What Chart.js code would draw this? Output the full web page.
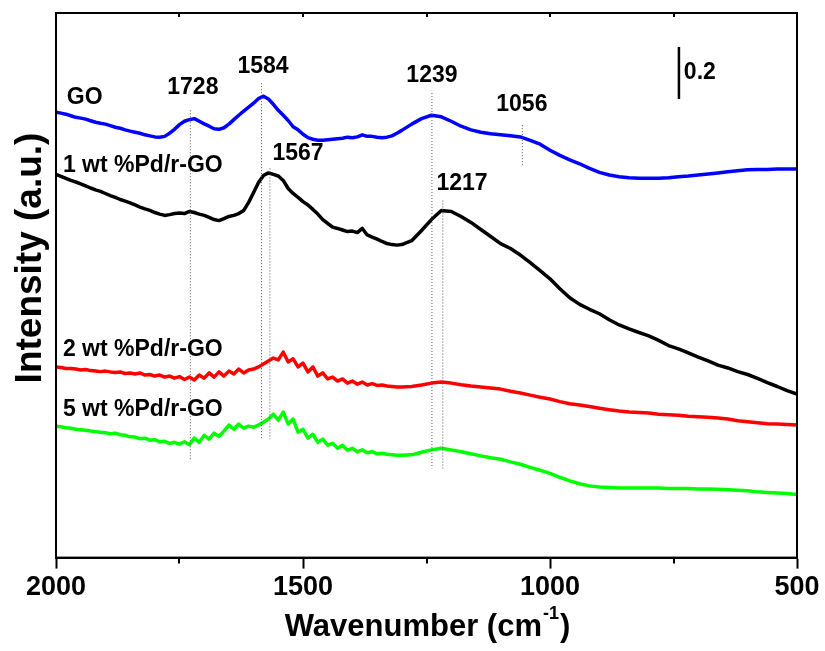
<!DOCTYPE html>
<html>
<head>
<meta charset="utf-8">
<title>FTIR spectra</title>
<script src="https://cdn.jsdelivr.net/npm/chart.js@4"></script>
<style>
  html, body { margin: 0; padding: 0; background: #fff; }
</style>
</head>
<body>
<canvas id="ftirChart" width="825" height="651"></canvas>
<script>
// Wavenumber grid (cm-1), 10 cm-1 steps down to 1300, then 20 cm-1 steps
const wavenumber = [
  2000,1990,1980,1970,1960,1950,1940,1930,1920,1910,
  1900,1890,1880,1870,1860,1850,1840,1830,1820,1810,
  1800,1790,1780,1770,1760,1750,1740,1730,1720,1710,
  1700,1690,1680,1670,1660,1650,1640,1630,1620,1610,
  1600,1590,1580,1570,1560,1550,1540,1530,1520,1510,
  1500,1490,1480,1470,1460,1450,1440,1430,1420,1410,
  1400,1390,1380,1370,1360,1350,1340,1330,1320,1310,
  1300,1280,1260,1240,1220,1200,1180,1160,1140,1120,
  1100,1080,1060,1040,1020,1000,980,960,940,920,
  900,880,860,840,820,800,780,760,740,720,
  700,680,660,640,620,600,580,560,540,520,
  500
];

// Stacked intensities (a.u., offset for display)
const goIntensity = [
  1.708,1.704,1.700,1.694,1.688,1.685,1.681,1.675,1.669,1.665,
  1.662,1.656,1.650,1.646,1.640,1.635,1.631,1.627,1.621,1.617,
  1.613,1.612,1.615,1.627,1.642,1.660,1.673,1.679,1.683,1.673,
  1.663,1.654,1.644,1.642,1.648,1.662,1.679,1.696,1.712,1.727,
  1.742,1.760,1.769,1.758,1.738,1.715,1.696,1.676,1.652,1.640,
  1.623,1.610,1.604,1.600,1.600,1.602,1.604,1.606,1.608,1.612,
  1.610,1.613,1.621,1.615,1.615,1.612,1.610,1.612,1.617,1.627,
  1.638,1.662,1.683,1.696,1.690,1.673,1.654,1.640,1.631,1.625,
  1.621,1.617,1.613,1.600,1.585,1.562,1.542,1.525,1.510,1.492,
  1.477,1.467,1.460,1.456,1.454,1.454,1.454,1.456,1.460,1.463,
  1.467,1.471,1.475,1.479,1.483,1.487,1.488,1.488,1.490,1.490,
  1.490
];

const pd1Intensity = [
  1.469,1.462,1.454,1.446,1.440,1.433,1.425,1.417,1.410,1.404,
  1.396,1.388,1.381,1.373,1.367,1.360,1.352,1.344,1.337,1.331,
  1.323,1.317,1.312,1.315,1.319,1.321,1.319,1.327,1.323,1.317,
  1.312,1.304,1.296,1.292,1.300,1.308,1.312,1.319,1.331,1.362,
  1.400,1.438,1.465,1.475,1.469,1.463,1.446,1.415,1.396,1.381,
  1.365,1.352,1.335,1.317,1.296,1.281,1.267,1.262,1.256,1.250,
  1.252,1.246,1.262,1.237,1.229,1.221,1.212,1.204,1.200,1.198,
  1.200,1.215,1.254,1.296,1.331,1.327,1.308,1.285,1.258,1.231,
  1.204,1.185,1.160,1.131,1.100,1.069,1.031,0.996,0.971,0.952,
  0.935,0.912,0.892,0.877,0.863,0.850,0.833,0.813,0.800,0.785,
  0.769,0.754,0.738,0.727,0.713,0.702,0.687,0.671,0.656,0.640,
  0.627
];

const pd2Intensity = [
  0.731,0.729,0.725,0.725,0.723,0.719,0.721,0.717,0.715,0.713,
  0.715,0.712,0.710,0.712,0.706,0.708,0.704,0.708,0.700,0.702,
  0.696,0.700,0.692,0.696,0.688,0.694,0.683,0.692,0.681,0.700,
  0.688,0.708,0.692,0.712,0.696,0.715,0.704,0.723,0.708,0.719,
  0.723,0.731,0.742,0.754,0.765,0.758,0.788,0.750,0.762,0.731,
  0.746,0.712,0.731,0.696,0.708,0.685,0.692,0.677,0.685,0.669,
  0.677,0.665,0.673,0.662,0.667,0.660,0.662,0.658,0.656,0.654,
  0.654,0.656,0.662,0.669,0.673,0.669,0.663,0.658,0.654,0.650,
  0.646,0.638,0.631,0.623,0.615,0.608,0.598,0.590,0.585,0.579,
  0.573,0.567,0.562,0.558,0.556,0.554,0.550,0.548,0.546,0.542,
  0.540,0.538,0.535,0.531,0.525,0.521,0.517,0.513,0.512,0.510,
  0.508
];

const pd5Intensity = [
  0.504,0.502,0.498,0.496,0.492,0.490,0.488,0.485,0.483,0.481,
  0.479,0.475,0.477,0.471,0.469,0.463,0.462,0.456,0.458,0.450,
  0.452,0.444,0.446,0.438,0.442,0.435,0.444,0.433,0.458,0.442,
  0.469,0.454,0.477,0.465,0.485,0.508,0.492,0.512,0.496,0.504,
  0.500,0.508,0.519,0.531,0.550,0.527,0.558,0.512,0.531,0.481,
  0.492,0.458,0.473,0.442,0.454,0.431,0.438,0.419,0.431,0.412,
  0.419,0.406,0.413,0.402,0.406,0.398,0.400,0.396,0.394,0.392,
  0.392,0.394,0.404,0.413,0.419,0.413,0.406,0.398,0.390,0.383,
  0.377,0.367,0.358,0.346,0.335,0.323,0.308,0.294,0.283,0.275,
  0.271,0.269,0.267,0.267,0.267,0.267,0.267,0.265,0.265,0.265,
  0.263,0.263,0.262,0.260,0.258,0.256,0.252,0.250,0.248,0.246,
  0.242
];

const seriesNames = ['GO', '1 wt %Pd/r-GO', '2 wt %Pd/r-GO', '5 wt %Pd/r-GO'];
const seriesColors = ['#0000ff', '#000000', '#ff0000', '#00ff00'];

// Band positions marked with dotted drop lines
const peakWave = [1728, 1584, 1567, 1239, 1217, 1056];
const peakTop = [1.715, 1.819, 1.492, 1.781, 1.369, 1.658];
const peakBottom = [0.369, 0.454, 0.454, 0.342, 0.342, 1.504];

// 0.2 a.u. intensity scale bar
const scaleBarWave = 739;
const scaleBarLevels = [1.758, 1.958];
const scaleBarText = '0.2';

const xTicks = [2000, 1500, 1000, 500];
const xMinorTicks = [1750, 1250, 750];

// Where the text labels sit, in axis units
const peakLabelAt = [[1723, 1.80], [1581, 1.881], [1510, 1.55], [1239, 1.846], [1178, 1.435], [1057, 1.735]];
const seriesLabelAt = [[1978, 1.762], [1986, 1.504], [1986, 0.796], [1986, 0.569]];
const scaleLabelAt = [729, 1.858];

const FONT = '"Liberation Sans", Arial, Helvetica, sans-serif';

const toPoints = arr => wavenumber.map((w, i) => ({ x: w, y: arr[i] }));

const datasets = [];

// dotted guide lines
peakWave.forEach((w, i) => {
    datasets.push({
        data: [{ x: w, y: peakTop[i] }, { x: w, y: peakBottom[i] }],
        borderColor: '#555',
        borderWidth: 1,
        borderDash: [1, 2]
    });
});

[goIntensity, pd1Intensity, pd2Intensity, pd5Intensity].forEach((arr, i) => {
    datasets.push({
        label: seriesNames[i],
        data: toPoints(arr),
        borderColor: seriesColors[i],
        borderWidth: 3.5,
        borderJoinStyle: 'round',
        borderCapStyle: 'round'
    });
});

datasets.push({
    data: [{ x: scaleBarWave, y: scaleBarLevels[0] }, { x: scaleBarWave, y: scaleBarLevels[1] }],
    borderColor: '#000',
    borderWidth: 2.5
});

// Frame, extra tick marks, axis titles and the in-plot labels
const frameAndLabels = {
    id: 'frameAndLabels',
    afterDraw(chart) {
        const { ctx, chartArea: a, scales: { x, y } } = chart;
        ctx.save();

        ctx.strokeStyle = '#000';
        ctx.lineWidth = 2;
        ctx.strokeRect(a.left, a.top, a.right - a.left, a.bottom - a.top);

        ctx.beginPath();
        xMinorTicks.forEach(w => {
            const px = Math.round(x.getPixelForValue(w));
            ctx.moveTo(px, a.bottom);
            ctx.lineTo(px, a.bottom + 6);
        });
        xTicks.concat(xMinorTicks).forEach(w => {
            const px = Math.round(x.getPixelForValue(w));
            ctx.moveTo(px, a.top);
            ctx.lineTo(px, a.top + 4);
        });
        ctx.stroke();

        ctx.fillStyle = '#000';
        ctx.textBaseline = 'middle';
        ctx.font = 'bold 23px ' + FONT;

        ctx.textAlign = 'center';
        peakWave.forEach((w, i) => {
            const [lx, ly] = peakLabelAt[i];
            ctx.fillText(String(w), x.getPixelForValue(lx), y.getPixelForValue(ly));
        });

        ctx.textAlign = 'left';
        seriesNames.forEach((name, i) => {
            const [lx, ly] = seriesLabelAt[i];
            ctx.fillText(name, x.getPixelForValue(lx), y.getPixelForValue(ly));
        });
        ctx.fillText(scaleBarText, x.getPixelForValue(scaleLabelAt[0]), y.getPixelForValue(scaleLabelAt[1]));

        // y title, a little above the axis centre
        ctx.save();
        ctx.translate(31, 258);
        ctx.rotate(-Math.PI / 2);
        ctx.textAlign = 'center';
        ctx.font = 'bold 37px ' + FONT;
        ctx.fillText('Intensity (a.u.)', 0, 0);
        ctx.restore();

        // Wavenumber (cm-1) with raised exponent
        ctx.textAlign = 'left';
        const main = 'Wavenumber (cm', sup = '-1', tail = ')';
        const mainFont = 'bold 31px ' + FONT, supFont = 'bold 18px ' + FONT;
        ctx.font = mainFont;
        const wMain = ctx.measureText(main).width, wTail = ctx.measureText(tail).width;
        ctx.font = supFont;
        const wSup = ctx.measureText(sup).width;
        let tx = (a.left + a.right) / 2 - (wMain + wSup + wTail) / 2;
        const ty = 627;
        ctx.font = mainFont;
        ctx.fillText(main, tx, ty);
        tx += wMain;
        ctx.font = supFont;
        ctx.fillText(sup, tx + 1, ty - 13);
        tx += wSup + 2;
        ctx.font = mainFont;
        ctx.fillText(tail, tx, ty);

        ctx.restore();
    }
};

new Chart(document.getElementById('ftirChart'), {
    type: 'line',
    data: { datasets: datasets },
    options: {
        responsive: false,
        animation: false,
        events: [],
        layout: { padding: { left: 56, right: 28, top: 13, bottom: 44 } },
        elements: { point: { radius: 0 }, line: { tension: 0 } },
        plugins: {
            legend: { display: false },
            tooltip: { enabled: false }
        },
        scales: {
            x: {
                type: 'linear',
                reverse: true,
                min: 500,
                max: 2000,
                ticks: {
                    stepSize: 500,
                    color: '#000',
                    padding: 3,
                    maxRotation: 0,
                    callback: value => String(value),
                    font: { family: FONT, size: 27, weight: 'bold' }
                },
                grid: {
                    drawOnChartArea: false,
                    drawTicks: true,
                    tickLength: 11,
                    tickWidth: 2,
                    tickColor: '#000'
                },
                border: { display: true, color: '#000', width: 2 }
            },
            y: {
                min: 0,
                max: 2.088,
                ticks: { display: false },
                grid: { display: false, drawTicks: false },
                border: { display: true, color: '#000', width: 2 },
                title: { display: false }
            }
        }
    },
    plugins: [frameAndLabels]
});
</script>
</body>
</html>
